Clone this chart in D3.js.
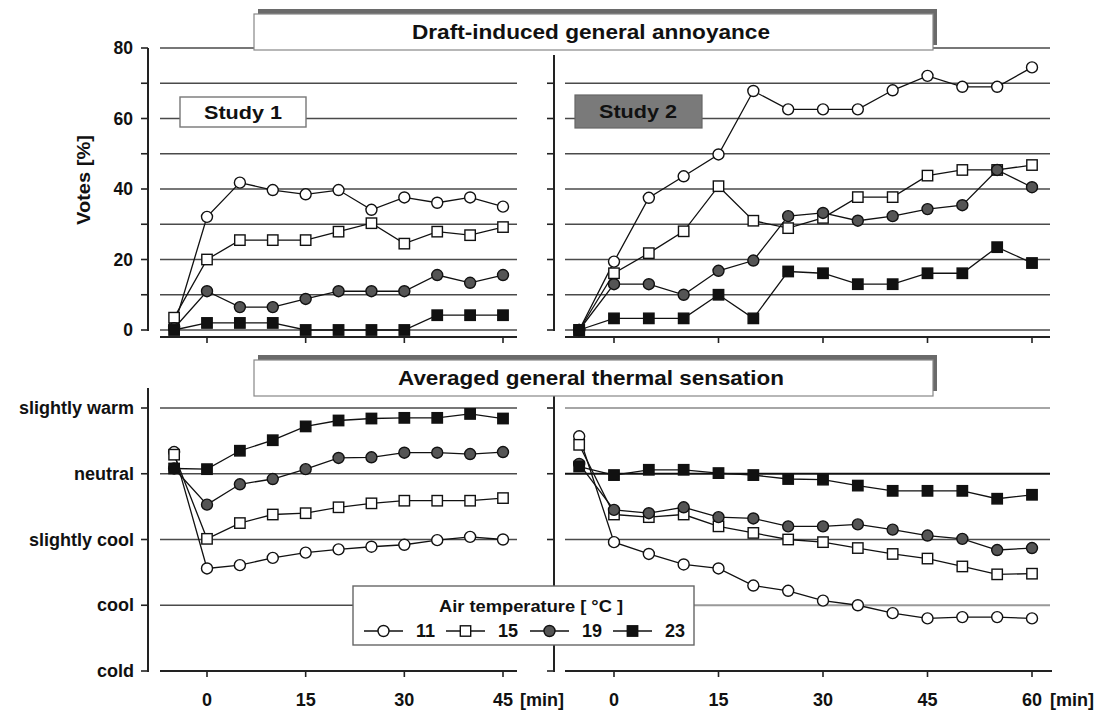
<!DOCTYPE html>
<html><head><meta charset="utf-8">
<script src="https://cdn.jsdelivr.net/npm/d3@7"></script>
<style>
html,body{margin:0;padding:0;background:#fff;}
svg text{font-family:"Liberation Sans",Arial,Helvetica,sans-serif;font-weight:bold;fill:#111;}
</style></head>
<body><svg id="c" width="1106" height="710"></svg>
<script>
// ---------- data ----------
const timesS1 = [-5,0,5,10,15,20,25,30,35,40,45];
const timesS2 = [-5,0,5,10,15,20,25,30,35,40,45,50,55,60];
const temps = ["11","15","19","23"];

const annoyS1_11 = [1, 32.1, 41.8, 39.7, 38.5, 39.7, 34.1, 37.6, 36.1, 37.6, 35.0];
const annoyS1_15 = [3.5, 20.0, 25.5, 25.5, 25.5, 27.9, 30.3, 24.5, 27.9, 26.9, 29.2];
const annoyS1_19 = [0.5, 11.0, 6.5, 6.5, 8.8, 11.0, 11.0, 11.0, 15.6, 13.4, 15.6];
const annoyS1_23 = [0, 2.0, 2.0, 2.0, 0, 0, 0, 0, 4.2, 4.2, 4.2];

const annoyS2_11 = [0, 19.4, 37.5, 43.6, 49.8, 67.8, 62.6, 62.6, 62.6, 68.0, 72.1, 69.0, 69.0, 74.5];
const annoyS2_15 = [0, 16.1, 21.8, 28.0, 40.8, 31.0, 28.9, 31.8, 37.7, 37.7, 43.8, 45.4, 45.4, 46.8];
const annoyS2_19 = [0, 13.0, 13.0, 10.0, 16.8, 19.7, 32.3, 33.2, 31.0, 32.3, 34.3, 35.4, 45.4, 40.5];
const annoyS2_23 = [0, 3.3, 3.3, 3.3, 10.0, 3.3, 16.6, 16.1, 13.0, 13.0, 16.1, 16.1, 23.5, 19.0];

const thermS1_11 = [0.33, -1.44, -1.39, -1.28, -1.20, -1.15, -1.11, -1.08, -1.01, -0.96, -1.00];
const thermS1_15 = [0.29, -0.99, -0.75, -0.62, -0.60, -0.51, -0.45, -0.41, -0.41, -0.41, -0.37];
const thermS1_19 = [0.08, -0.47, -0.16, -0.08, 0.07, 0.24, 0.25, 0.32, 0.32, 0.30, 0.33];
const thermS1_23 = [0.08, 0.07, 0.35, 0.51, 0.72, 0.81, 0.84, 0.85, 0.85, 0.91, 0.84];

const thermS2_11 = [0.57, -1.04, -1.22, -1.38, -1.44, -1.70, -1.78, -1.93, -2.00, -2.12, -2.20, -2.18, -2.18, -2.20];
const thermS2_15 = [0.44, -0.62, -0.66, -0.62, -0.80, -0.90, -1.00, -1.04, -1.13, -1.22, -1.29, -1.41, -1.53, -1.52];
const thermS2_19 = [0.15, -0.55, -0.60, -0.51, -0.66, -0.68, -0.80, -0.80, -0.77, -0.85, -0.94, -0.99, -1.16, -1.13];
const thermS2_23 = [0.11, -0.02, 0.06, 0.06, 0.01, -0.02, -0.08, -0.09, -0.18, -0.26, -0.26, -0.26, -0.38, -0.32];

const xTicksS1 = [0,15,30,45];
const xTicksS2 = [0,15,30,45,60];
const voteTicks = [0,10,20,30,40,50,60,70,80];
const voteLabels = [0,20,40,60,80];
const thermTicks = [-3,-2,-1,0,1];
const thermLabels = ["cold","cool","slightly cool","neutral","slightly warm"];

// ---------- layout ----------
const svg = d3.select("#c");
const xL = d3.scaleLinear().domain([0,45]).range([207,503]);
const xR = d3.scaleLinear().domain([0,60]).range([614,1032]);
const yTop = d3.scaleLinear().domain([0,80]).range([330,48]);
const yBot = d3.scaleLinear().domain([-3,1]).range([671,408]);

const gridCol = "#4a4a4a";

function hline(x1,x2,y,col,w){
  svg.append("line").attr("x1",x1).attr("x2",x2).attr("y1",y).attr("y2",y)
    .attr("stroke",col).attr("stroke-width",w);
}
function vline(x,y1,y2,col,w){
  svg.append("line").attr("x1",x).attr("x2",x).attr("y1",y1).attr("y2",y2)
    .attr("stroke",col).attr("stroke-width",w);
}
function text(x,y,s,size,anchor,len){
  const t = svg.append("text").attr("x",x).attr("y",y).text(s)
    .attr("font-size",size).attr("text-anchor",anchor||"middle");
  if(len){t.attr("textLength",len).attr("lengthAdjust","spacingAndGlyphs");}
  return t;
}

// --- top panels gridlines
[0,10,20,30,40,50,60,70,80].forEach(v=>{
  hline(160,517,yTop(v),gridCol,1.4);
  hline(565,1050,yTop(v),gridCol,1.4);
});

// top y axes
vline(148,yTop(80),yTop(0)+1,"#222",2);
voteTicks.forEach(v=>hline(141,148,yTop(v),"#222",1.6));
vline(554,yTop(78),yTop(0)+1,"#222",2);
voteTicks.filter(v=>v<80).forEach(v=>hline(547,554,yTop(v),"#222",1.6));
voteLabels.forEach(v=>text(133,yTop(v)+6,String(v),17.5,"end"));

// top x axes (no labels)
hline(160,517,337,"#222",2);
xTicksS1.forEach(t=>vline(xL(t),337,343,"#222",1.6));
hline(565,1050,337,"#222",2);
xTicksS2.forEach(t=>vline(xR(t),337,343,"#222",1.6));

// Votes label
text(0,0,"Votes [%]",18,"middle",90).attr("transform","translate(90,180) rotate(-90)");

// --- bottom panels gridlines
thermTicks.filter(v=>v>-3).forEach(v=>{
  hline(160,517,yBot(v),gridCol,1.4);
});
hline(565,1050,yBot(1),"#888",1.6);
hline(565,1050,yBot(0),"#111",2);
hline(565,1050,yBot(-1),gridCol,1.4);
hline(565,1050,yBot(-2),"#999",1.8);

// bottom y axes
vline(148,388,yBot(-3)+1,"#222",2);
thermTicks.forEach(v=>hline(141,148,yBot(v),"#222",1.6));
thermTicks.forEach((v,i)=>text(134,yBot(v)+6,thermLabels[i],18,"end"));
vline(554,396,yBot(-3)+1,"#222",2);
thermTicks.forEach(v=>hline(547,554,yBot(v),"#222",1.6));

// bottom x axes
hline(160,517,671,"#222",2.2);
xTicksS1.forEach(t=>{vline(xL(t),671,677,"#222",1.6);text(xL(t),706,String(t),18,"middle");});
text(520,706,"[min]",18,"start");
hline(565,1052,671,"#222",2.2);
xTicksS2.forEach(t=>{vline(xR(t),671,677,"#222",1.6);text(xR(t),706,String(t),18,"middle");});
text(1050,706,"[min]",18,"start");

// --- title boxes
function titleBox(y0,label,len){
  svg.append("rect").attr("x",258).attr("y",y0-5).attr("width",679).attr("height",36)
    .attr("fill","#6a6a6a");
  svg.append("rect").attr("x",254).attr("y",y0).attr("width",679).attr("height",36)
    .attr("fill","#fff").attr("stroke","#888").attr("stroke-width",1.2);
  text(591,y0+25,label,20,"middle",len);
}
titleBox(14,"Draft-induced general annoyance",358);
titleBox(360,"Averaged general thermal sensation",386);

// --- study boxes
svg.append("rect").attr("x",180).attr("y",97).attr("width",126).attr("height",30)
  .attr("fill","#fff").attr("stroke","#777").attr("stroke-width",1.4);
text(243,119,"Study 1",18,"middle",78);
svg.append("rect").attr("x",575).attr("y",95).attr("width",127).attr("height",33)
  .attr("fill","#7a7a7a").attr("stroke","#666").attr("stroke-width",1.2);
text(638,118,"Study 2",18,"middle",78);

// --- series
const styles = {
  "11":{shape:"circle",fill:"#fff"},
  "15":{shape:"square",fill:"#fff"},
  "19":{shape:"circle",fill:"#555"},
  "23":{shape:"square",fill:"#111"}
};
function marker(g,shape,fill,cx,cy){
  if(shape==="circle"){
    g.append("circle").attr("cx",cx).attr("cy",cy).attr("r",5.5)
      .attr("fill",fill).attr("stroke","#111").attr("stroke-width",1.4);
  } else {
    g.append("rect").attr("x",cx-5.2).attr("y",cy-5.2).attr("width",10.4).attr("height",10.4)
      .attr("fill",fill).attr("stroke","#111").attr("stroke-width",1.4);
  }
}
function series(times,vals,xs,ys,key){
  const g = svg.append("g");
  const pts = times.map((t,i)=>[xs(t),ys(vals[i])]);
  g.append("path").attr("d",d3.line()(pts)).attr("fill","none")
    .attr("stroke","#111").attr("stroke-width",1.3);
  pts.forEach(p=>marker(g,styles[key].shape,styles[key].fill,p[0],p[1]));
}
const topS1 = [annoyS1_11,annoyS1_15,annoyS1_19,annoyS1_23];
const topS2 = [annoyS2_11,annoyS2_15,annoyS2_19,annoyS2_23];
const botS1 = [thermS1_11,thermS1_15,thermS1_19,thermS1_23];
const botS2 = [thermS2_11,thermS2_15,thermS2_19,thermS2_23];
temps.forEach((k,i)=>{
  series(timesS1,topS1[i],xL,yTop,k);
  series(timesS2,topS2[i],xR,yTop,k);
  series(timesS1,botS1[i],xL,yBot,k);
  series(timesS2,botS2[i],xR,yBot,k);
});

// --- legend
svg.append("rect").attr("x",353).attr("y",586).attr("width",341).attr("height",59)
  .attr("fill","#fff").attr("stroke","#666").attr("stroke-width",1.4);
text(531,612,"Air temperature [ °C ]",16,"middle",184);
const legX = [364,446,530,613];
temps.forEach((k,i)=>{
  const g = svg.append("g");
  const x0 = legX[i];
  g.append("line").attr("x1",x0).attr("x2",x0+39).attr("y1",631).attr("y2",631)
    .attr("stroke","#111").attr("stroke-width",1.4);
  marker(g,styles[k].shape,styles[k].fill,x0+19.5,631);
  text(x0+52,637,k,18,"start");
});
</script></body></html>
